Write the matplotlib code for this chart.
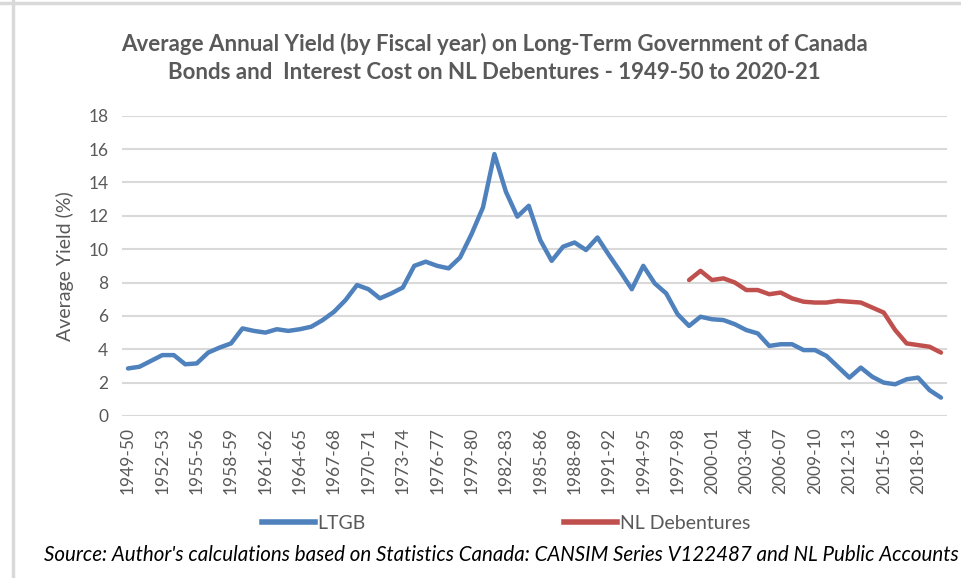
import matplotlib.pyplot as plt
from matplotlib.lines import Line2D

years = ['%d-%02d' % (y, (y + 1) % 100) for y in range(1949, 2021)]

ltgb = [2.85, 2.95, 3.3, 3.65, 3.65, 3.1, 3.15, 3.8, 4.1, 4.35,
        5.25, 5.1, 5.0, 5.2, 5.1, 5.2, 5.35, 5.75, 6.25, 6.95,
        7.85, 7.6, 7.05, 7.35, 7.7, 9.0, 9.25, 9.0, 8.85, 9.5,
        10.9, 12.5, 15.7, 13.45, 11.95, 12.6, 10.55, 9.3, 10.15, 10.4,
        9.95, 10.7, 9.65, 8.65, 7.6, 9.0, 7.95, 7.35, 6.1, 5.4,
        5.95, 5.8, 5.75, 5.5, 5.15, 4.95, 4.2, 4.3, 4.3, 3.95,
        3.95, 3.6, 2.95, 2.3, 2.9, 2.35, 2.0, 1.9, 2.2, 2.3,
        1.55, 1.1]

nl_start = 49  # 1998-99
nl_deb = [8.15, 8.7, 8.15, 8.25, 8.0, 7.55, 7.55, 7.3, 7.4, 7.05,
          6.85, 6.8, 6.8, 6.9, 6.85, 6.8, 6.5, 6.2, 5.15, 4.35,
          4.25, 4.15, 3.8]

tick_labels = years[::3]

plt.rcParams['font.family'] = ['Lato', 'DejaVu Sans']
grey = '#595959'

fig = plt.figure(figsize=(9.62, 5.78), dpi=100)
ax = fig.add_axes([0.1271, 0.2803, 0.857, 0.5195])

x = list(range(len(years)))
ax.plot(x, ltgb, color='#4f81bd', lw=3.2, solid_capstyle='round', solid_joinstyle='round')
ax.plot(x[nl_start:], nl_deb, color='#c0504d', lw=3.2, solid_capstyle='round', solid_joinstyle='round')

ax.set_xlim(-0.5, len(years) - 0.5)
ax.set_ylim(0, 18)
ax.set_yticks(range(0, 19, 2))
ax.set_xticks(x[::3])
ax.set_xticklabels(tick_labels, rotation=90)
ax.tick_params(axis='both', length=0, colors=grey, labelsize=12.5)
ax.tick_params(axis='y', pad=10)
ax.tick_params(axis='x', pad=8)
ax.grid(axis='y', color='#d9d9d9', lw=1.5)
ax.set_axisbelow(True)
for s in ax.spines.values():
    s.set_visible(False)

ax.set_ylabel('Average Yield (%)', color=grey, fontsize=14, labelpad=10)

fig.text(0.514, 0.90, 'Average Annual Yield (by Fiscal year) on Long-Term Government of Canada\n'
         'Bonds and  Interest Cost on NL Debentures - 1949-50 to 2020-21',
         ha='center', va='center', color=grey, fontsize=16, fontweight='bold', linespacing=1.4)

handles = [Line2D([], [], color='#4f81bd', lw=4),
           Line2D([], [], color='#c0504d', lw=4)]
fig.legend(handles, ['LTGB', 'NL Debentures'], loc='center', bbox_to_anchor=(0.526, 0.095),
           ncol=2, frameon=False, fontsize=14, labelcolor=grey, handlelength=2.7,
           handletextpad=0.15, columnspacing=10.2)

fig.text(0.521, 0.04, "Source: Author's calculations based on Statistics Canada: CANSIM Series V122487 and NL Public Accounts",
         ha='center', va='center', fontsize=14.8, style='italic', color='black')

# outer frame lines
fig.add_artist(Line2D([0, 1], [0.995, 0.995], color='#d9d9d9', lw=2.5, transform=fig.transFigure))
fig.add_artist(Line2D([0.0135, 0.0135], [0, 1], color='#d9d9d9', lw=2.5, transform=fig.transFigure))

fig.savefig('out.png', dpi=100)
